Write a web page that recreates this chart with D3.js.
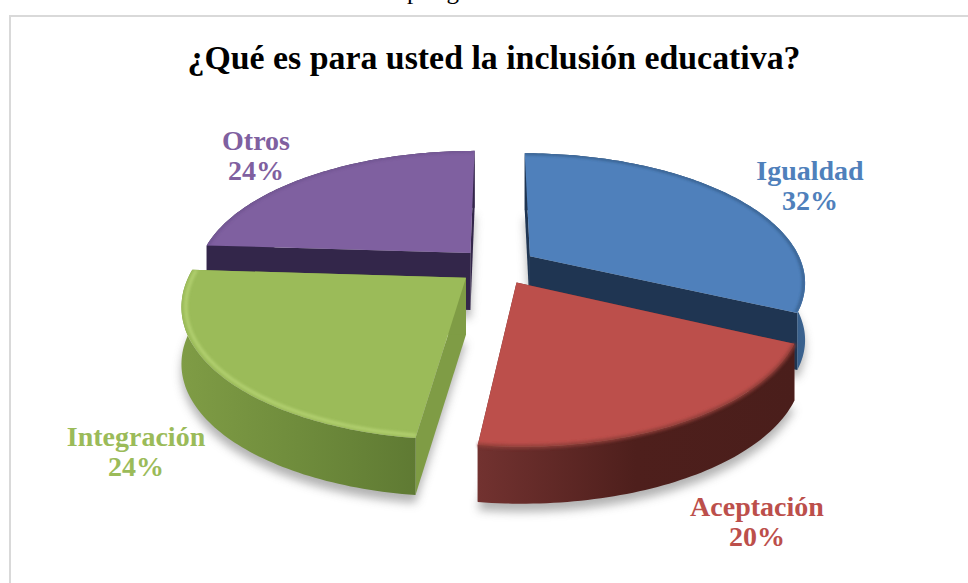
<!DOCTYPE html>
<html><head><meta charset="utf-8">
<style>html,body{margin:0;padding:0;background:#fff;overflow:hidden}svg{display:block}</style>
<script src="https://cdn.jsdelivr.net/npm/d3@7/dist/d3.min.js"></script>
</head><body><svg id="c" width="968" height="583"></svg>
<script>
const titleText = "¿Qué es para usted la inclusión educativa?";
const categories = ["Igualdad","Aceptación","Integración","Otros"];
const values = [32,20,24,24];
const topColors = ["#4f80bb","#bc4f4b","#9bbb59","#7f60a0"];
const faceColors = ["#1f3552","#6b2d2a","#7f9c45","#33264a"];
const rimStart = ["#3a628f","#723230","#7f9c45","#33264a"];
const rimMid = ["#1f3552","#4e1f1c","#6f8c3c","#33264a"];
const rimEnd = ["#1f3552","#4a1e1b","#5f7a33","#33264a"];
const highlight = ["#2c4f77","#8e3c39","#bcd97a","#6a4f8a"];
const labelAnchors = [[810,180],[757,516],[136,446],[256,150]];

const W=968,H=583,cx=497,cy=266,RX=273,RY=126,K=0.19,EX=0.145,DEPTH=57;
const svg=d3.select("#c");
const defs=svg.append("defs");
const fShadow=defs.append("filter").attr("id","sh").attr("x","-20%").attr("y","-20%").attr("width","140%").attr("height","140%");
fShadow.append("feGaussianBlur").attr("stdDeviation",5);
const fSoft=defs.append("filter").attr("id","soft").attr("x","-10%").attr("y","-10%").attr("width","120%").attr("height","120%");
fSoft.append("feGaussianBlur").attr("stdDeviation",1.6);

const project=(u,v,z=0)=>{const w=1-K*v;return [cx+RX*u/w, cy+RY*v/w+z];};
const line=d3.line();
const pie=d3.pie().sort(null).value(d=>d)(values);

const slices=pie.map((p,i)=>{
  const mid=(p.startAngle+p.endAngle)/2, ox=EX*Math.sin(mid), oy=-EX*Math.cos(mid);
  const pt=(a,r=1,z=0)=>project(ox+r*Math.sin(a),oy-r*Math.cos(a),z);
  const n=Math.ceil((p.endAngle-p.startAngle)/0.02);
  const angs=d3.range(n+1).map(k=>p.startAngle+(p.endAngle-p.startAngle)*k/n);
  return {i,p,pt,angs,apex:pt(0,0),apexB:pt(0,0,DEPTH)};
});

// frame
svg.append("rect").attr("x",10).attr("y",16).attr("width",W+20).attr("height",H+20)
  .attr("fill","none").attr("stroke","#d9d9d9").attr("stroke-width",2);

// ground shadow
const shadowG=svg.append("g").attr("filter","url(#sh)").attr("opacity",0.5);
slices.forEach(s=>{
  shadowG.append("path").attr("fill","#666")
   .attr("d",line([s.pt(0,0,DEPTH+8),...s.angs.map(a=>s.pt(a,1.0,DEPTH+8))])+"Z");
});

// page text clipped at top
svg.append("text").attr("x",407).attr("y",-0.6).attr("font-family","Liberation Serif").attr("font-size",25)
  .attr("letter-spacing",8).attr("fill","#000").text("página");

const drawOrder=[3,0,2,1];
drawOrder.forEach(idx=>{
  const s=slices[idx],i=s.i,g=svg.append("g");
  const a0=s.p.startAngle,a1=s.p.endAngle;
  [a0,a1].forEach(a=>{
    g.append("path").attr("fill",faceColors[i])
     .attr("d",line([s.apex,s.pt(a),s.pt(a,1,DEPTH),s.apexB])+"Z");
  });
  const gid="rim"+i, lg=defs.append("linearGradient").attr("id",gid).attr("gradientUnits","userSpaceOnUse");
  const xs=s.angs.map(a=>s.pt(a)[0]);
  lg.attr("x1",d3.min(xs)).attr("x2",d3.max(xs)).attr("y1",0).attr("y2",0);
  const flip=i===0;
  lg.append("stop").attr("offset",0).attr("stop-color",flip?rimEnd[i]:rimStart[i]);
  lg.append("stop").attr("offset",0.5).attr("stop-color",rimMid[i]);
  lg.append("stop").attr("offset",1).attr("stop-color",flip?rimStart[i]:rimEnd[i]);
  g.append("path").attr("fill",`url(#${gid})`)
   .attr("d",line([...s.angs.map(a=>s.pt(a)),...s.angs.slice().reverse().map(a=>s.pt(a,1,DEPTH))])+"Z");
  const topD=line([s.apex,...s.angs.map(a=>s.pt(a))])+"Z";
  g.append("path").attr("fill",topColors[i]).attr("d",topD);
  const cid="clip"+i;
  defs.append("clipPath").attr("id",cid).append("path").attr("d",topD);
  (i===1?g:g.append("g").attr("clip-path",`url(#${cid})`)).append("path")
   .attr("fill","none").attr("stroke",highlight[i]).attr("stroke-width",i===2?3:i===1?4:2).attr("filter","url(#soft)")
   .attr("opacity",i===2?0.8:0.9)
   .attr("d",line(s.angs.map(a=>s.pt(a,i===2?0.985:i===1?1:0.995))));
});

// title
svg.append("text").attr("x",494).attr("y",69).attr("text-anchor","middle")
  .attr("font-family","Liberation Serif").attr("font-weight","bold").attr("font-size",34).attr("fill","#000")
  .attr("textLength",613).attr("lengthAdjust","spacingAndGlyphs").text(titleText);

// labels
categories.forEach((c,i)=>{
  const [x,y]=labelAnchors[i];
  const t=svg.append("text").attr("text-anchor","middle").attr("font-family","Liberation Serif")
    .attr("font-weight","bold").attr("font-size",28).attr("fill",topColors[i]);
  t.append("tspan").attr("x",x).attr("y",y).text(c);
  t.append("tspan").attr("x",x).attr("y",y+30).text(values[i]+"%");
});
</script></body></html>
